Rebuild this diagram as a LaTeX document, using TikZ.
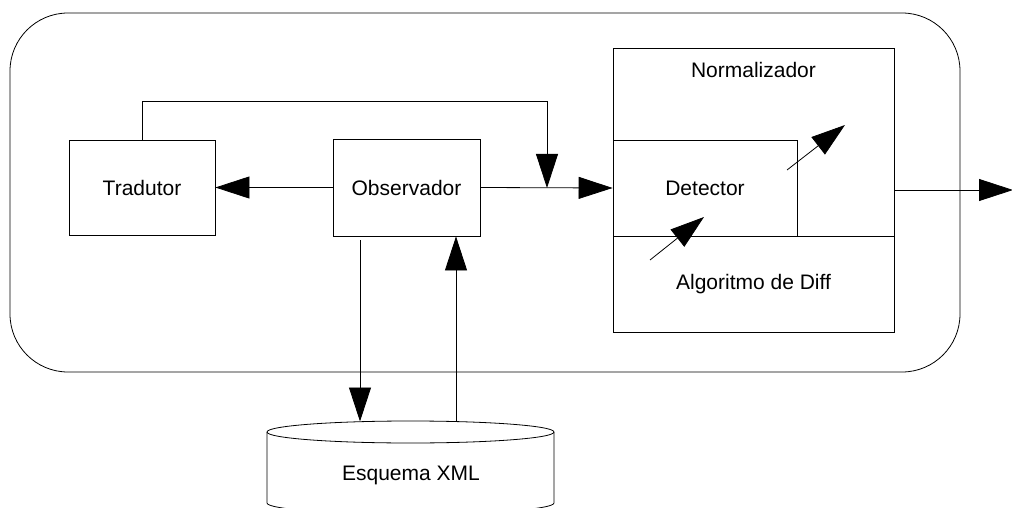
\documentclass[tikz,border=0pt]{standalone}
\usepackage{fontspec}
\setmainfont{Liberation Sans}
\usetikzlibrary{arrows.meta}

\begin{document}
\begin{tikzpicture}[
  x=1pt, y=-1pt,
  line width=0.8pt,
  every node/.style={font=\fontsize{21}{25}\selectfont},
  block/.style={draw, inner sep=0pt},
  arr/.style={-{Triangle[length=34pt,width=22pt]}},
]
\useasboundingbox (0,0) rectangle (1012,508);
\clip (0,0) rectangle (1012,508);

% enclosing system frame
\node[block, rounded corners=58pt, minimum width=950pt, minimum height=359pt] (sys) at (485,192.5) {};

% components
\node[block, minimum width=146pt, minimum height=95pt] (trad) at (142,187.5) {Tradutor};
\node[block, minimum width=147pt, minimum height=97pt] (obs) at (406.5,187.5) {Observador};

\node[block, minimum width=281pt, minimum height=284pt] (norm) at (753.5,190) {};
\node (normlabel) at (753.5,70) {Normalizador};
\node[block, minimum width=184pt, minimum height=96pt] (det) at (705,188) {Detector};
\node[block, minimum width=281pt, minimum height=96pt] (alg) at (753.5,284) {Algoritmo de Diff};

% XML schema store
\draw (410.5,432) ellipse [x radius=143.5, y radius=11];
\draw (267,432) -- (267,503) arc[start angle=180, end angle=0, x radius=143.5, y radius=11] -- (554,432);
\node (db) at (411,475) {Esquema XML};

% connector end points
\coordinate (join) at (547,188);
\coordinate (dbin) at (360,421.5);
\coordinate (dbout) at (456,421.5);
\coordinate (a1s) at (650,260);
\coordinate (a1e) at (704,217);
\coordinate (a2s) at (787,170);
\coordinate (a2e) at (845,125);
\coordinate (out) at (1013,190);

% connectors
\draw[arr] (obs.west) -- (trad.east);
\draw[arr] (obs.east) -- (det.west);
\draw[arr] (trad.north) -- ++(0,-38) -| (join);
\draw[arr] ([yshift=-4pt]obs.south -| dbin) -- (dbin);
\draw[arr] (dbout) -- (dbout |- obs.south);
\draw[arr] (a1s) -- (a1e);
\draw[arr] (a2s) -- (a2e);
\draw[arr] (norm.east) -- (out);
\end{tikzpicture}
\end{document}
